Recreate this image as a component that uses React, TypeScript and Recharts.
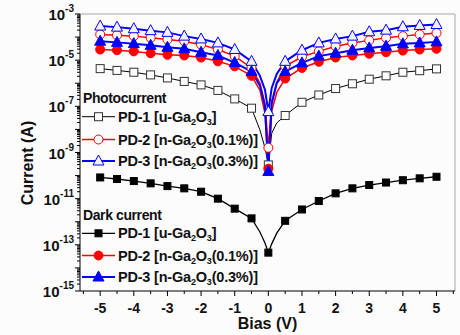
import { LineChart, Line, XAxis, YAxis, Legend, ReferenceLine, Label } from "recharts"

// bias points (V); markers sit on the 0.5 V grid, the extra points near 0 only shape the dip
const bias = [-5, -4.5, -4, -3.5, -3, -2.5, -2, -1.5, -1, -0.5, -0.25, -0.1, 0, 0.1, 0.25, 0.5, 1, 1.5, 2, 2.5, 3, 3.5, 4, 4.5, 5]

// photocurrent (A)
const photoPd1 = [4.3e-6, 3.6e-6, 3.0e-6, 2.3e-6, 1.7e-6, 1.2e-6, 8.5e-7, 4.9e-7, 2.1e-7, 8.3e-8, 9.5e-9, 1.6e-9, 2.9e-10, 6.8e-9, 1.9e-8, 4.0e-8, 1.5e-7, 3.1e-7, 5.9e-7, 9.5e-7, 1.5e-6, 2.1e-6, 3.0e-6, 3.5e-6, 4.2e-6]
const photoPd2 = [1.3e-4, 1.2e-4, 1.1e-4, 9.3e-5, 7.8e-5, 6.6e-5, 4.7e-5, 2.9e-5, 1.5e-5, 4.6e-6, 1.0e-6, 1.3e-7, 1.6e-9, 1.6e-7, 1.1e-6, 5.4e-6, 1.4e-5, 2.4e-5, 4.0e-5, 5.6e-5, 7.2e-5, 9.3e-5, 1.1e-4, 1.3e-4, 1.5e-4]
const photoPd3 = [3.0e-4, 2.7e-4, 2.3e-4, 1.9e-4, 1.6e-4, 1.1e-4, 8.3e-5, 5.6e-5, 2.9e-5, 8.9e-6, 2.1e-6, 5.2e-7, 5.9e-8, 6.3e-7, 2.5e-6, 8.9e-6, 2.7e-5, 5.6e-5, 8.3e-5, 1.1e-4, 1.7e-4, 2.0e-4, 2.8e-4, 3.2e-4, 3.5e-4]

// dark current (A)
const darkPd1 = [8.3e-11, 7.1e-11, 5.8e-11, 4.6e-11, 3.5e-11, 2.8e-11, 2.0e-11, 1.0e-11, 3.7e-12, 1.4e-12, 3.6e-13, 1.2e-13, 4.6e-14, 1.1e-13, 3.2e-13, 1.1e-12, 3.4e-12, 7.9e-12, 1.7e-11, 2.8e-11, 3.9e-11, 5.0e-11, 6.3e-11, 7.6e-11, 8.9e-11]
const darkPd2 = [2.9e-5, 2.7e-5, 2.4e-5, 2.0e-5, 1.7e-5, 1.6e-5, 1.3e-5, 8.9e-6, 5.4e-6, 2.1e-6, 5.0e-7, 5.0e-8, 2.0e-10, 6.3e-8, 4.0e-7, 1.6e-6, 4.6e-6, 8.5e-6, 1.3e-5, 1.6e-5, 1.9e-5, 2.2e-5, 2.6e-5, 2.9e-5, 3.1e-5]
const darkPd3 = [6.6e-5, 5.9e-5, 5.2e-5, 4.4e-5, 3.6e-5, 3.1e-5, 2.2e-5, 1.6e-5, 7.9e-6, 3.2e-6, 7.9e-7, 1.0e-7, 1.5e-10, 1.3e-7, 1.0e-6, 3.2e-6, 7.6e-6, 1.5e-5, 2.0e-5, 2.7e-5, 3.4e-5, 4.0e-5, 5.1e-5, 5.6e-5, 6.2e-5]

const xTicks = [-5.5, -5, -4.5, -4, -3.5, -3, -2.5, -2, -1.5, -1, -0.5, 0, 0.5, 1, 1.5, 2, 2.5, 3, 3.5, 4, 4.5, 5, 5.5]
const yDecades = [-15, -14, -13, -12, -11, -10, -9, -8, -7, -6, -5, -4, -3]

const yTicks: number[] = []
yDecades.forEach((e) => {
  if (e === -3) {
    yTicks.push(1e-3)
    return
  }
  for (let m = 1; m <= 9; m++) yTicks.push(m * Math.pow(10, e))
})

const data = bias.map((b, i) => ({
  bias: b,
  photo1: photoPd1[i],
  photo2: photoPd2[i],
  photo3: photoPd3[i],
  dark1: darkPd1[i],
  dark2: darkPd2[i],
  dark3: darkPd3[i],
}))

const FONT = "'Liberation Sans', Arial, sans-serif"
const RED = "#ff0000"
const BLUE = "#0000ff"

type Kind = "square" | "circle" | "triangle"

const series = [
  { key: "dark1", kind: "square" as Kind, filled: true, color: "#000", width: 1.3, name: "PD-1", host: "u", dope: "" },
  { key: "photo1", kind: "square" as Kind, filled: false, color: "#000", width: 1, name: "PD-1", host: "u", dope: "" },
  { key: "dark2", kind: "circle" as Kind, filled: true, color: RED, width: 1.5, name: "PD-2", host: "n", dope: "0.1%" },
  { key: "photo2", kind: "circle" as Kind, filled: false, color: RED, width: 1.5, name: "PD-2", host: "n", dope: "0.1%" },
  { key: "dark3", kind: "triangle" as Kind, filled: true, color: BLUE, width: 2, name: "PD-3", host: "n", dope: "0.3%" },
  { key: "photo3", kind: "triangle" as Kind, filled: false, color: BLUE, width: 2, name: "PD-3", host: "n", dope: "0.3%" },
]

function Marker({ kind, filled, color, cx, cy }: { kind: Kind; filled: boolean; color: string; cx: number; cy: number }) {
  if (kind === "square") {
    const s = filled ? 7 : 8
    return <rect x={cx - s / 2} y={cy - s / 2} width={s} height={s} fill={filled ? color : "#fff"} stroke={filled ? color : "#333"} strokeWidth={1} />
  }
  if (kind === "circle") {
    return <circle cx={cx} cy={cy} r={4.5} fill={filled ? color : "#fff"} stroke={color} strokeWidth={1} />
  }
  const pts = `${cx},${cy - 6} ${cx + 5.5},${cy + 4} ${cx - 5.5},${cy + 4}`
  return <polygon points={pts} fill={filled ? color : "#f2f2ff"} stroke={color} strokeWidth={1} />
}

const onGrid = (v: number) => Math.abs(v * 2 - Math.round(v * 2)) < 1e-9

function XTick({ x, y, payload }: any) {
  const v = payload.value
  const major = Number.isInteger(v)
  return (
    <g>
      <line x1={x} x2={x} y1={y} y2={y + (major ? 5 : 3)} stroke="#000" />
      {major && (
        <text x={x} y={y + 22} textAnchor="middle" fontFamily={FONT} fontWeight="bold" fontSize={14} fill="#111">
          {v}
        </text>
      )}
    </g>
  )
}

function YTick({ x, y, payload }: any) {
  const lg = Math.log10(payload.value)
  const e = Math.round(lg)
  const major = Math.abs(lg - e) < 1e-6
  return (
    <g>
      <line x1={x - (major ? 5 : 3)} x2={x} y1={y} y2={y} stroke="#000" />
      {major && e % 2 !== 0 && (
        <text x={x - 6} y={y + 6} textAnchor="end" fontFamily={FONT} fontWeight="bold" fontSize={15} fill="#111">
          10
          <tspan dy={-8} fontSize={10}>{e}</tspan>
        </text>
      )}
    </g>
  )
}

function GaLabel({ host, dope }: { host: string; dope: string }) {
  return (
    <>
      {` [${host}-Ga`}
      <tspan dy={3} fontSize={9}>2</tspan>
      <tspan dy={-3}>O</tspan>
      <tspan dy={3} fontSize={9}>3</tspan>
      <tspan dy={-3}>{dope ? `(${dope})]` : "]"}</tspan>
    </>
  )
}

function LegendBlock() {
  const photo = series.filter((s) => s.key.startsWith("photo"))
  const dark = series.filter((s) => s.key.startsWith("dark"))
  const rows = [
    { title: "Photocurrent", titleY: 15, items: photo, ys: [28.7, 51.5, 73] },
    { title: "Dark current", titleY: 132, items: dark, ys: [145.3, 167.5, 189] },
  ]
  return (
    <svg width={200} height={200} style={{ overflow: "visible" }}>
      {rows.map((r) => (
        <g key={r.title}>
          <text x={3} y={r.titleY} fontFamily={FONT} fontWeight="bold" fontSize={14} letterSpacing={-0.4} fill="#111">
            {r.title}
          </text>
          {r.items.map((s, i) => (
            <g key={s.key}>
              <line x1={2} x2={35} y1={r.ys[i]} y2={r.ys[i]} stroke={s.color} strokeWidth={s.width} />
              <Marker kind={s.kind} filled={s.filled} color={s.color} cx={18.5} cy={r.ys[i]} />
              <text x={38} y={r.ys[i] + 5} fontFamily={FONT} fontWeight="bold" fontSize={14.5} letterSpacing={-0.2} fill="#111">
                {s.name}
                <GaLabel host={s.host} dope={s.dope} />
              </text>
            </g>
          ))}
        </g>
      ))}
    </svg>
  )
}

export default function App() {
  return (
    <div style={{ position: "absolute", left: 0, top: 0, width: 460, height: 335, background: "#fdfcfd" }}>
      <LineChart width={460} height={335} data={data} margin={{ top: 14, right: 5, bottom: 0, left: 0 }}>
        <XAxis
          dataKey="bias"
          type="number"
          domain={[-5.6, 5.55]}
          ticks={xTicks}
          interval={0}
          height={44}
          tickSize={0}
          tickMargin={0}
          tickLine={false}
          tick={<XTick />}
          axisLine={{ stroke: "#000" }}
        >
          <Label
            content={() => (
              <text x={267.5} y={329} textAnchor="middle" fontFamily={FONT} fontWeight="bold" fontSize={16} fill="#111">
                Bias (V)
              </text>
            )}
          />
        </XAxis>
        <YAxis
          type="number"
          scale="log"
          domain={[1e-15, 1e-3]}
          allowDataOverflow
          ticks={yTicks}
          interval={0}
          width={80}
          tickSize={0}
          tickMargin={0}
          tickLine={false}
          tick={<YTick />}
          axisLine={{ stroke: "#000" }}
        >
          <Label
            content={() => (
              <text transform="translate(33,163) rotate(-90)" textAnchor="middle" fontFamily={FONT} fontWeight="bold" fontSize={16} fill="#111">
                Current (A)
              </text>
            )}
          />
        </YAxis>
        <ReferenceLine y={1e-3} stroke="#a8a8a8" />
        <ReferenceLine x={5.55} stroke="#a8a8a8" />
        <Legend
          layout="vertical"
          align="center"
          verticalAlign="middle"
          wrapperStyle={{ left: 80, top: 88, width: 200, height: 200 }}
          content={() => <LegendBlock />}
        />
        {series.map((s) => (
          <Line
            key={s.key}
            dataKey={s.key}
            type="linear"
            stroke={s.color}
            strokeWidth={s.width}
            isAnimationActive={false}
            activeDot={false}
            dot={(p: any) =>
              onGrid(p.payload.bias) ? (
                <Marker key={`${s.key}-${p.index}`} kind={s.kind} filled={s.filled} color={s.color} cx={p.cx} cy={p.cy} />
              ) : (
                <g key={`${s.key}-${p.index}`} />
              )
            }
          />
        ))}
      </LineChart>
    </div>
  )
}
